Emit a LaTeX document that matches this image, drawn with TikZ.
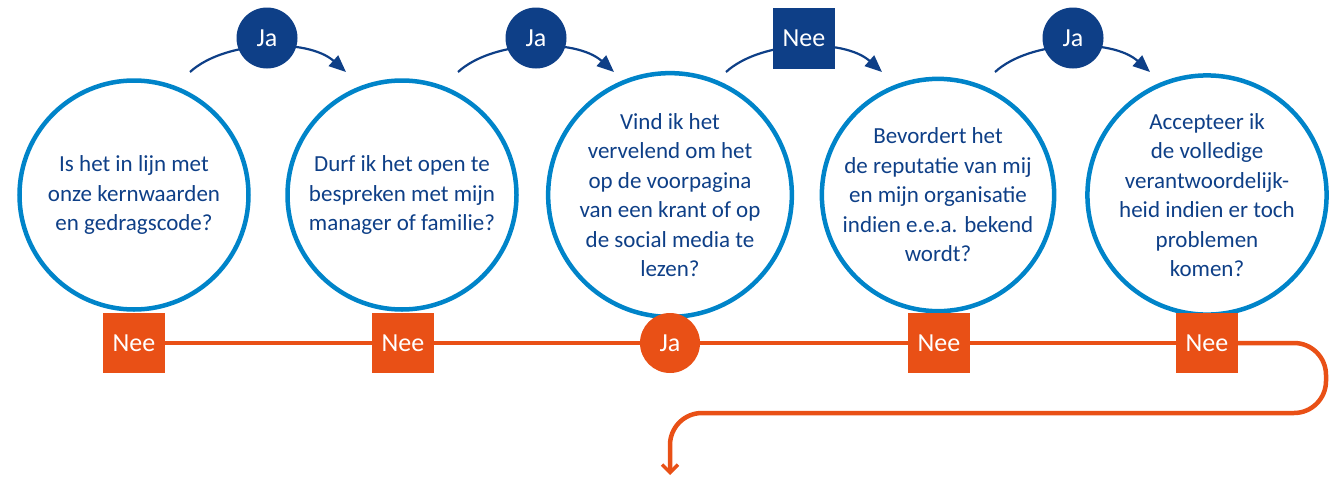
\documentclass[tikz,border=0pt]{standalone}
\usepackage{fontspec}
\setmainfont{Carlito}
\usetikzlibrary{arrows.meta}
\definecolor{cblue}{RGB}{0,132,201}
\definecolor{dblue}{RGB}{14,63,135}
\definecolor{orng}{RGB}{233,80,22}
\tikzset{
  q/.style={circle,draw=cblue,line width=4.5pt,minimum size=229pt,inner sep=0pt,
    text=dblue,align=center,font=\fontsize{23pt}{29.5pt}\selectfont},
  lab/.style={inner sep=0pt,text=white,font=\fontsize{26pt}{28pt}\selectfont},
  dcirc/.style={lab,circle,fill=dblue,minimum size=61pt},
  dbox/.style={lab,rectangle,fill=dblue,minimum width=62pt,minimum height=61pt},
  obox/.style={lab,rectangle,fill=orng,minimum width=62pt,minimum height=60pt},
  ocirc/.style={lab,circle,fill=orng,minimum size=60pt},
  arc/.style={draw=dblue,line width=2.2pt,-{Triangle[length=17pt,width=14pt]}},
  oline/.style={draw=orng,line width=4.5pt},
}
\begin{document}
\begin{tikzpicture}[x=1pt,y=-1pt]
\useasboundingbox (0,0) rectangle (1332,477);
% questions
\node[q] (q1) at (134,195) {Is het in lijn met\\onze kernwaarden\\en gedragscode?};
\node[q] (q2) at (402,195) {Durf ik het open te\\bespreken met mijn\\manager of familie?};
\node[q] (q3) at (670,195) {Vind ik het\\vervelend om het\\op de voorpagina\\van een krant of op\\de social media te\\lezen?};
\node[q] (q4) at (938,195) {Bevordert het\\de reputatie van mij\\en mijn organisatie\\indien e.e.a. bekend\\wordt?};
\node[q] (q5) at (1207,195) {Accepteer ik\\de volledige\\verantwoordelijk-\\heid indien er toch\\problemen\\komen?};
% top arcs
\coordinate (s1) at (190,72); \coordinate (e1) at (346,72);
\coordinate (s2) at (458,72); \coordinate (e2) at (614,72);
\coordinate (s3) at (726,72); \coordinate (e3) at (882,72);
\coordinate (s4) at (995,72); \coordinate (e4) at (1150,72);
\draw[arc] (s1) .. controls (225,40) and (308,38) .. (e1);
\draw[arc] (s2) .. controls (493,40) and (576,38) .. (e2);
\draw[arc] (s3) .. controls (761,40) and (844,38) .. (e3);
\draw[arc] (s4) .. controls (1030,40) and (1112,38) .. (e4);
\node[dcirc] (j1) at (267,38) {Ja};
\node[dcirc] (j2) at (536,38) {Ja};
\node[dbox] (n3) at (804,38) {Nee};
\node[dcirc] (j4) at (1073,38) {Ja};
% bottom line
\node[obox] (b1) at (134,343) {Nee};
\node[obox] (b2) at (403,343) {Nee};
\node[ocirc] (b3) at (670,343) {Ja};
\node[obox] (b4) at (939,343) {Nee};
\node[obox] (b5) at (1207,343) {Nee};
\coordinate (end) at (670,475);
\draw[oline] (b1) -- (b2);
\draw[oline] (b2) -- (b3);
\draw[oline] (b3) -- (b4);
\draw[oline] (b4) -- (b5);
\draw[oline,rounded corners=32pt,-{Straight Barb[length=8pt,width=16pt,line width=3.5pt]}] (b5.east) -- (1326,343) -- (1326,413) -- (670,413) -- (end);
\end{tikzpicture}
\end{document}
